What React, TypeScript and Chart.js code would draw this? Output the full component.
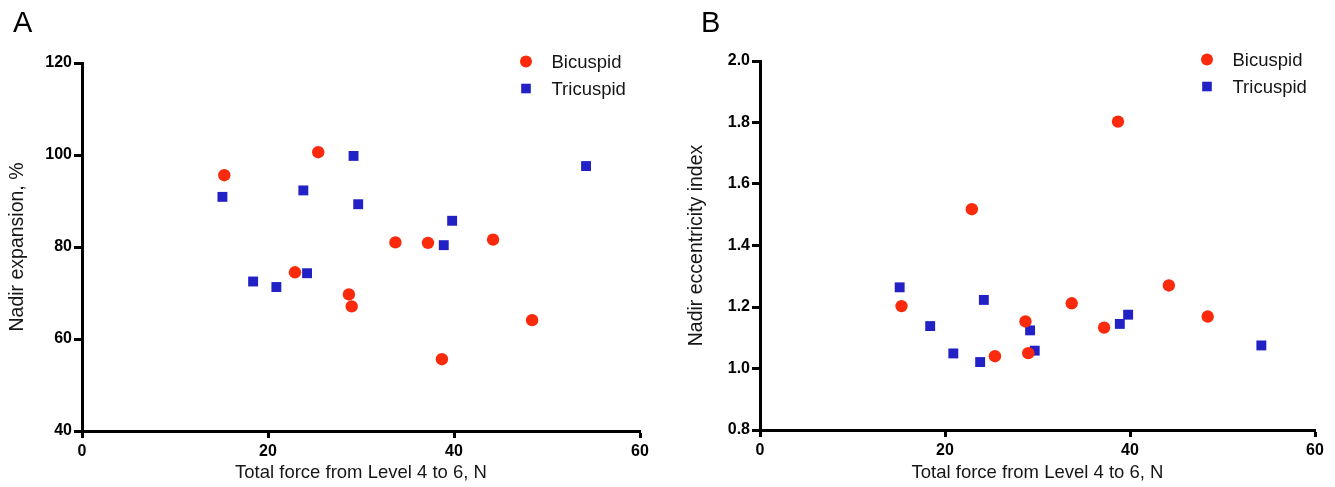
import React, { useEffect, useRef } from "react";
import { Chart, registerables } from "chart.js";

Chart.register(...registerables);

// ---- Data ----
const xTicks = [0, 20, 40, 60];
const expansionTicks = [40, 60, 80, 100, 120];
const eccentricityTicks = [0.8, 1.0, 1.2, 1.4, 1.6, 1.8, 2.0];

const bicuspidForce = [15.3, 22.9, 25.4, 28.7, 29.0, 33.7, 37.2, 38.7, 44.2, 48.4];
const bicuspidExpansion = [95.6, 74.5, 100.6, 69.7, 67.1, 81.0, 80.9, 55.6, 81.6, 64.1];
const bicuspidEccentricity = [1.203, 1.518, 1.04, 1.153, 1.05, 1.212, 1.133, 1.803, 1.27, 1.169];

const tricuspidForce = [15.1, 18.4, 20.9, 23.8, 24.2, 29.2, 29.7, 38.9, 39.8, 54.2];
const tricuspidExpansion = [90.9, 72.5, 71.3, 92.3, 74.3, 99.8, 89.3, 80.4, 85.7, 97.6];
const tricuspidEccentricity = [1.264, 1.138, 1.049, 1.021, 1.223, 1.124, 1.058, 1.145, 1.175, 1.075];

const seriesLabels = ["Bicuspid", "Tricuspid"];
const xTitle = "Total force from Level 4 to 6, N";

const RED = "#fb2a0c";
const BLUE = "#2121c6";
const FONT = '"Liberation Sans", Arial, Helvetica, sans-serif';

const legendPlugin = {
  id: "customLegend",
  afterDraw(chart: any, _args: any, opts: any) {
    const { ctx, chartArea } = chart;
    const mx = chartArea.right - opts.offsetX;
    let my = chartArea.top + opts.offsetY;
    chart.data.datasets.forEach((ds: any) => {
      ctx.save();
      ctx.fillStyle = ds.backgroundColor;
      if (ds.pointStyle === "rect") {
        const s = 9.6;
        ctx.fillRect(mx - s / 2, my - s / 2, s, s);
      } else {
        ctx.beginPath();
        ctx.arc(mx, my, 6, 0, Math.PI * 2);
        ctx.fill();
      }
      ctx.fillStyle = "#161616";
      ctx.font = `18.5px ${FONT}`;
      ctx.textBaseline = "middle";
      ctx.textAlign = "left";
      ctx.fillText(ds.label, mx + opts.textGap, my + 1);
      ctx.restore();
      my += opts.rowGap;
    });
  },
};

type PanelProps = {
  left: number;
  width: number;
  letter: string;
  letterLeft: number;
  yTitle: string;
  yTicks: number[];
  decimals: number;
  bicY: number[];
  triY: number[];
  yAxisWidth: number;
  titlePad: number;
  top: number;
  bottomH: number;
  rightPad: number;
  legendOffsetX: number;
};

function Panel(p: PanelProps) {
  const ref = useRef<HTMLCanvasElement | null>(null);
  useEffect(() => {
    if (!ref.current) return;
    const yMin = p.yTicks[0];
    const yMax = p.yTicks[p.yTicks.length - 1];
    const yStep = p.yTicks[1] - p.yTicks[0];
    const chart = new Chart(ref.current, {
      type: "scatter",
      data: {
        datasets: [
          {
            label: seriesLabels[0],
            data: bicuspidForce.map((x, i) => ({ x, y: p.bicY[i] })),
            backgroundColor: RED,
            borderColor: RED,
            borderWidth: 0,
            pointStyle: "circle",
            pointRadius: 6.2,
            pointHoverRadius: 6.2,
          },
          {
            label: seriesLabels[1],
            data: tricuspidForce.map((x, i) => ({ x, y: p.triY[i] })),
            backgroundColor: BLUE,
            borderColor: BLUE,
            borderWidth: 0,
            pointStyle: "rect",
            pointRadius: 7,
            pointHoverRadius: 7,
          },
        ],
      },
      options: {
        animation: false,
        responsive: false,
        devicePixelRatio: 1,
        events: [],
        layout: { padding: { left: 0, top: p.top, right: p.rightPad, bottom: 0 } },
        plugins: {
          legend: { display: false },
          tooltip: { enabled: false },
          customLegend: { offsetX: p.legendOffsetX, offsetY: -1.5, textGap: 25.5, rowGap: 27 },
        } as any,
        scales: {
          x: {
            type: "linear",
            min: xTicks[0],
            max: xTicks[xTicks.length - 1],
            afterBuildTicks: (s: any) => {
              s.ticks = xTicks.map((v) => ({ value: v }));
            },
            afterFit: (s: any) => {
              s.height = p.bottomH;
            },
            ticks: {
              color: "#000",
              font: { family: FONT, size: 16, weight: "bold" },
              padding: 4,
              maxRotation: 0,
            },
            grid: {
              display: true,
              drawOnChartArea: false,
              drawTicks: true,
              tickLength: 7,
              tickWidth: 3,
              tickColor: "#000",
            },
            border: { display: true, width: 3, color: "#000" },
            title: {
              display: true,
              text: xTitle,
              color: "#161616",
              font: { family: FONT, size: 18.5 },
              padding: { top: 0, bottom: 3 },
            },
          },
          y: {
            type: "linear",
            min: yMin,
            max: yMax,
            afterBuildTicks: (s: any) => {
              s.ticks = p.yTicks.map((v) => ({ value: v }));
            },
            afterFit: (s: any) => {
              s.width = p.yAxisWidth;
            },
            ticks: {
              stepSize: yStep,
              color: "#000",
              font: { family: FONT, size: 16, weight: "bold" },
              padding: 2,
              callback: (v: any) => Number(v).toFixed(p.decimals),
            },
            grid: {
              display: true,
              drawOnChartArea: false,
              drawTicks: true,
              tickLength: 8,
              tickWidth: 3,
              tickColor: "#000",
            },
            border: { display: true, width: 3, color: "#000" },
            title: {
              display: true,
              text: p.yTitle,
              color: "#161616",
              font: { family: FONT, size: 19.5 },
              padding: { top: p.titlePad, bottom: 0 },
            },
          },
        },
      },
      plugins: [legendPlugin],
    });
    return () => chart.destroy();
  }, []);

  return (
    <div style={{ position: "absolute", left: p.left, top: 0, width: p.width, height: 487 }}>
      <canvas ref={ref} width={p.width} height={487} style={{ display: "block" }} />
      <div
        style={{
          position: "absolute",
          left: p.letterLeft,
          top: 8,
          fontFamily: FONT,
          fontSize: 29,
          lineHeight: "29px",
          color: "#000",
        }}
      >
        {p.letter}
      </div>
    </div>
  );
}

export default function App() {
  return (
    <div style={{ position: "absolute", left: 0, top: 0, width: 1335, height: 487, background: "#fff" }}>
      <Panel
        left={0}
        width={667}
        letter="A"
        letterLeft={13}
        yTitle="Nadir expansion, %"
        yTicks={expansionTicks}
        decimals={0}
        bicY={bicuspidExpansion}
        triY={tricuspidExpansion}
        yAxisWidth={82}
        titlePad={6}
        top={63}
        bottomH={56}
        rightPad={27}
        legendOffsetX={114}
      />
      <Panel
        left={667}
        width={668}
        letter="B"
        letterLeft={34}
        yTitle="Nadir eccentricity index"
        yTicks={eccentricityTicks}
        decimals={1}
        bicY={bicuspidEccentricity}
        triY={tricuspidEccentricity}
        yAxisWidth={93}
        titlePad={18}
        top={61}
        bottomH={57}
        rightPad={20}
        legendOffsetX={108}
      />
    </div>
  );
}
